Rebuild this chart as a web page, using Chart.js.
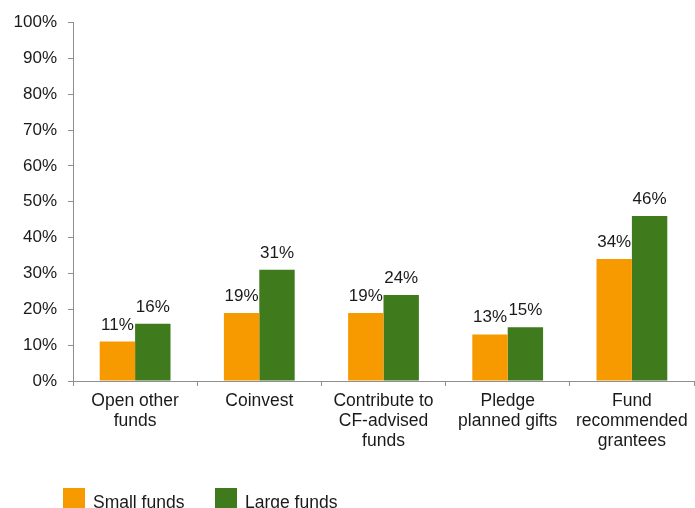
<!DOCTYPE html>
<html>
<head>
<meta charset="utf-8">
<script src="https://cdn.jsdelivr.net/npm/chart.js@4/dist/chart.umd.min.js"></script>
<style>
  html, body { margin: 0; padding: 0; background: #fff; overflow: hidden; }
  #wrap { width: 695px; height: 508px; position: relative; }
</style>
</head>
<body>
<div id="wrap"><canvas id="chart" width="695" height="508"></canvas></div>
<script>
// --- data ---
const categories = [
  ['Open other', 'funds'],
  'Coinvest',
  ['Contribute to', 'CF-advised', 'funds'],
  ['Pledge', 'planned gifts'],
  ['Fund', 'recommended', 'grantees']
];
const smallFunds = [11, 19, 19, 13, 34];
const largeFunds = [16, 31, 24, 15, 46];
const seriesNames = ['Small funds', 'Large funds'];
const yTicks = [0, 10, 20, 30, 40, 50, 60, 70, 80, 90, 100];

const ORANGE = '#F79A00';
const GREEN = '#3F7B1D';
const AXIS = '#8f8f8f';
const FONT = 'Liberation Sans, Arial, sans-serif';

// value labels above each bar
const valueLabels = {
  id: 'valueLabels',
  afterDatasetsDraw(chart) {
    const ctx = chart.ctx;
    ctx.save();
    ctx.font = '17px ' + FONT;
    ctx.fillStyle = '#1a1a1a';
    ctx.textAlign = 'center';
    ctx.textBaseline = 'alphabetic';
    chart.data.datasets.forEach((ds, i) => {
      chart.getDatasetMeta(i).data.forEach((bar, j) => {
        ctx.fillText(ds.data[j] + '%', bar.x, bar.y - 12);
      });
    });
    ctx.restore();
  }
};

// legend squares along the bottom edge
const bottomLegend = {
  id: 'bottomLegend',
  afterDraw(chart) {
    const ctx = chart.ctx;
    ctx.save();
    ctx.font = '17.5px ' + FONT;
    ctx.textBaseline = 'alphabetic';
    const starts = [63, 215];
    chart.data.datasets.forEach((ds, i) => {
      const x = starts[i];
      ctx.fillStyle = ds.backgroundColor;
      ctx.fillRect(x, 488, 22, 22);
      ctx.fillStyle = '#1a1a1a';
      ctx.fillText(ds.label, x + 30, 507.5);
    });
    ctx.restore();
  }
};

new Chart(document.getElementById('chart'), {
  type: 'bar',
  data: {
    labels: categories,
    datasets: [
      { label: seriesNames[0], data: smallFunds, backgroundColor: ORANGE },
      { label: seriesNames[1], data: largeFunds, backgroundColor: GREEN }
    ]
  },
  options: {
    responsive: false,
    animation: false,
    devicePixelRatio: 1,
    layout: { padding: { top: 22.5, right: 1, bottom: 47, left: 3 } },
    datasets: { bar: { categoryPercentage: 0.57, barPercentage: 1.0 } },
    plugins: { legend: { display: false }, tooltip: { enabled: false } },
    scales: {
      x: {
        afterFit(axis) { axis.height = 80; axis.paddingLeft = 0; axis.paddingRight = 0; },
        grid: { drawOnChartArea: false, drawTicks: true, tickLength: 5, color: AXIS, offset: true },
        border: { color: AXIS, width: 1 },
        ticks: { color: '#1a1a1a', font: { family: FONT, size: 17.5, lineHeight: 1.15 }, padding: 5, maxRotation: 0, autoSkip: false }
      },
      y: {
        min: 0,
        max: 100,
        afterBuildTicks(axis) { axis.ticks = yTicks.map(v => ({ value: v })); },
        afterFit(axis) { axis.width = 70; axis.paddingTop = 0; axis.paddingBottom = 0; },
        grid: { drawOnChartArea: false, drawTicks: true, tickLength: 5, color: AXIS },
        border: { color: AXIS, width: 1 },
        ticks: { color: '#1a1a1a', font: { family: FONT, size: 17 }, padding: 11, callback: v => v + '%' }
      }
    }
  },
  plugins: [valueLabels, bottomLegend]
});
</script>
</body>
</html>
